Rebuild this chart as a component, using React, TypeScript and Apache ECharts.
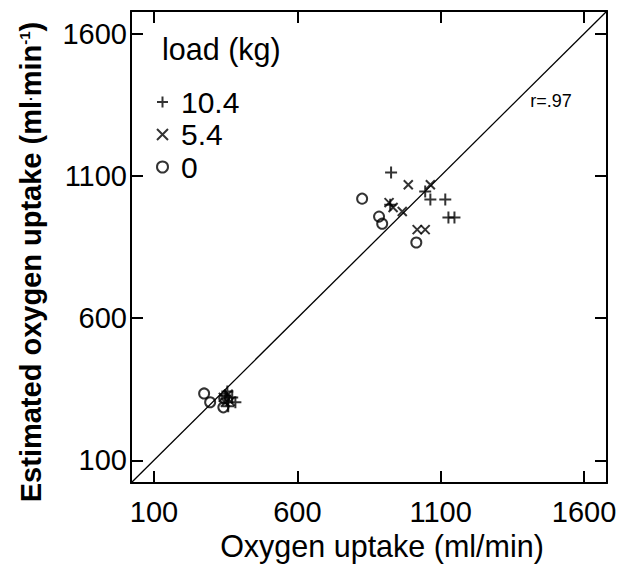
import React, { useEffect, useRef } from "react";
import * as echarts from "echarts";

const axisTicks = [100, 600, 1100, 1600];
const axisMin = 20;
const axisMax = 1680;

const loadNames = ["10.4", "5.4", "0"];

// [measured VO2 (ml/min), estimated VO2]
const load104: number[][] = [
  [927, 1112], [1046, 1045], [1064, 1017], [1116, 1017], [1127, 954], [1148, 954], [924, 999],
  [356, 342], [373, 321], [384, 304], [359, 290], [349, 328],
];
const load54: number[][] = [
  [987, 1069], [1064, 1069], [920, 1006], [934, 989], [966, 975], [1018, 911], [1046, 911],
  [342, 321], [359, 332], [366, 307], [349, 304],
];
const load0: number[][] = [
  [826, 1020], [885, 957], [896, 932], [1015, 866],
  [275, 335], [296, 304], [342, 286], [345, 318],
];
const identity: number[][] = [[axisMin, axisMin], [axisMax, axisMax]];

const FONT = "'Liberation Sans', Arial, Helvetica, sans-serif";
const PLUS = "path://M0,6H12M6,0V12";
const CROSS = "path://M0,0L10,10M10,0L0,10";

function makeAxis(pos: string, showLabel: boolean) {
  return {
    type: "value",
    position: pos,
    min: axisMin,
    max: axisMax,
    axisLine: { show: true, onZero: false, lineStyle: { color: "#000", width: 2 } },
    axisTick: {
      show: true,
      inside: true,
      length: 12,
      customValues: axisTicks,
      lineStyle: { color: "#000", width: 2 },
    },
    axisLabel: {
      show: showLabel,
      customValues: axisTicks,
      formatter: (v: number) => String(v),
      fontSize: 29,
      fontFamily: FONT,
      color: "#000",
      margin: pos === "bottom" ? 14 : 4,
    },
    splitLine: { show: false },
  };
}

export default function App() {
  const ref = useRef<HTMLDivElement>(null);
  useEffect(() => {
    if (!ref.current) return;
    const chart = echarts.init(ref.current, undefined, { renderer: "svg" });
    const markerStyle = { color: "rgba(0,0,0,0)", borderColor: "#000", borderWidth: 2 };
    chart.setOption({
      animation: false,
      backgroundColor: "#fff",
      grid: { left: 131, right: 14, top: 11, bottom: 82, containLabel: false },
      xAxis: [makeAxis("bottom", true), makeAxis("top", false)],
      yAxis: [makeAxis("left", true), makeAxis("right", false)],
      legend: {
        orient: "vertical",
        left: 151,
        top: 82,
        itemWidth: 11,
        itemHeight: 11,
        itemGap: 2.5,
        data: loadNames,
        textStyle: { fontSize: 30, fontFamily: FONT, color: "#000", padding: [0, 0, 0, 8] },
      },
      graphic: [
        {
          type: "text",
          left: 162,
          top: 33,
          style: { text: "load (kg)", font: `30.5px ${FONT}`, fill: "#000" },
        },
        {
          type: "text",
          x: 551,
          y: 101,
          style: { text: "r=.97", font: `18px ${FONT}`, fill: "#000", align: "center", verticalAlign: "middle" },
        },
        {
          type: "text",
          x: 382,
          y: 546,
          style: {
            text: "Oxygen uptake (ml/min)",
            font: `30.5px ${FONT}`,
            fill: "#000",
            align: "center",
            verticalAlign: "middle",
          },
        },
        {
          type: "text",
          x: 31,
          y: 262,
          rotation: Math.PI / 2,
          style: {
            text: "Estimated oxygen uptake (ml{d|·}min{s|-1})",
            font: `bold 29px ${FONT}`,
            fill: "#000",
            align: "center",
            verticalAlign: "middle",
            rich: {
              d: { font: `bold 14px ${FONT}`, fill: "#000" },
              s: { font: `bold 15px ${FONT}`, fill: "#000", verticalAlign: "top" },
            },
          },
        },
      ],
      series: [
        {
          name: "10.4",
          type: "scatter",
          symbol: PLUS,
          symbolSize: 12,
          itemStyle: markerStyle,
          data: load104,
          z: 3,
        },
        {
          name: "5.4",
          type: "scatter",
          symbol: CROSS,
          symbolSize: 9,
          itemStyle: markerStyle,
          data: load54,
          z: 3,
        },
        {
          name: "0",
          type: "scatter",
          symbol: "circle",
          symbolSize: 10,
          itemStyle: markerStyle,
          data: load0,
          z: 3,
        },
        {
          name: "identity",
          type: "line",
          data: identity,
          showSymbol: false,
          symbol: "none",
          lineStyle: { color: "#000", width: 1.3 },
          z: 2,
        },
      ],
    });
    return () => chart.dispose();
  }, []);
  return <div ref={ref} style={{ width: 621, height: 565, position: "absolute", left: 0, top: 0 }} />;
}
